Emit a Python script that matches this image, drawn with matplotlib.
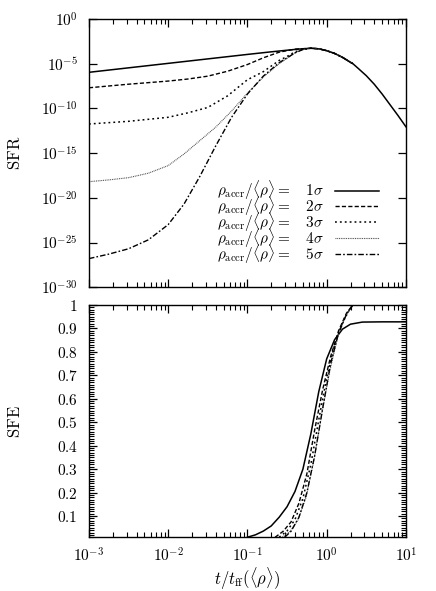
import numpy as np
import matplotlib
matplotlib.use("Agg")
import matplotlib.pyplot as plt
from matplotlib.ticker import FixedLocator, LogLocator, MultipleLocator, NullLocator, NullFormatter

plt.rcParams.update({
    "font.family": "serif",
    "font.serif": ["DejaVu Serif"],
    "mathtext.fontset": "cm",
    "font.size": 10,
    "axes.linewidth": 1.0,
})

# ---------------------------------------------------------------------------
# values (log10 t/t_ff and log10 SFR, SFE)
# ---------------------------------------------------------------------------
labels = [r"$\rho_{\mathrm{accr}}/\langle\rho\rangle =\ \ \ 1\sigma$",
          r"$\rho_{\mathrm{accr}}/\langle\rho\rangle =\ \ \ 2\sigma$",
          r"$\rho_{\mathrm{accr}}/\langle\rho\rangle =\ \ \ 3\sigma$",
          r"$\rho_{\mathrm{accr}}/\langle\rho\rangle =\ \ \ 4\sigma$",
          r"$\rho_{\mathrm{accr}}/\langle\rho\rangle =\ \ \ 5\sigma$"]

x_ticks = [-3, -2, -1, 0, 1]
sfr_ticks = [-30, -25, -20, -15, -10, -5, 0]
sfe_ticks = [0.1, 0.2, 0.3, 0.4, 0.5, 0.6, 0.7, 0.8, 0.9, 1.0]

# shared decline after the peak
tail_lt = [-0.1, 0.0, 0.1, 0.2, 0.3, 0.33]
tail_sfr = [-3.34, -3.55, -3.86, -4.3, -4.85, -5.0]
tail_lt_long = [0.4, 0.5, 0.6, 0.7, 0.8, 0.9, 1.0]
tail_sfr_long = [-5.55, -6.35, -7.3, -8.4, -9.6, -10.8, -12.06]

sfr1_lt = [-3.0, -2.5, -2.0, -1.5, -1.0, -0.7, -0.5, -0.35, -0.2]
sfr1 = [-5.97, -5.47, -4.97, -4.47, -3.97, -3.68, -3.5, -3.37, -3.28]

sfr2_lt = [-3.0, -2.5, -2.0, -1.75, -1.5, -1.25, -1.0, -0.8, -0.6, -0.4, -0.2]
sfr2 = [-7.7, -7.3, -6.95, -6.72, -6.4, -5.85, -5.1, -4.35, -3.72, -3.38, -3.28]

sfr3_lt = [-3.0, -2.5, -2.0, -1.75, -1.5, -1.25, -1.0, -0.8, -0.6, -0.5, -0.4, -0.3, -0.2]
sfr3 = [-11.75, -11.45, -11.0, -10.5, -9.9, -8.6, -6.8, -5.9, -4.65, -4.2, -3.68, -3.4, -3.28]

sfr4_lt = [-3.0, -2.75, -2.5, -2.25, -2.0, -1.8, -1.6, -1.4, -1.2, -1.0, -0.8, -0.6, -0.4, -0.3, -0.2]
sfr4 = [-18.2, -18.0, -17.75, -17.25, -16.4, -15.1, -13.6, -12.1, -10.3, -8.3, -6.5, -5.0, -3.8, -3.42, -3.28]

sfr5_lt = [-3.0, -2.75, -2.5, -2.25, -2.0, -1.8, -1.6, -1.4, -1.2, -1.0, -0.8, -0.6, -0.4, -0.3, -0.2]
sfr5 = [-26.8, -26.3, -25.7, -24.7, -23.0, -20.7, -17.6, -14.2, -11.0, -8.4, -6.4, -4.9, -3.8, -3.42, -3.28]

sfe1_lt = [-1.0, -0.9, -0.8, -0.7, -0.6, -0.5, -0.4, -0.3, -0.2, -0.1, 0.0, 0.1, 0.2, 0.3, 0.45, 0.7, 1.0]
sfe1 = [0.01, 0.02, 0.036, 0.058, 0.095, 0.14, 0.205, 0.3, 0.45, 0.63, 0.77, 0.852, 0.897, 0.918, 0.927, 0.928, 0.928]

sfe2_lt = [-0.65, -0.55, -0.45, -0.35, -0.25, -0.15, -0.05, 0.05, 0.15, 0.25, 0.33]
sfe2 = [0.01, 0.035, 0.075, 0.155, 0.28, 0.47, 0.64, 0.78, 0.89, 0.965, 1.0]

sfe3_lt = [-0.6, -0.5, -0.4, -0.3, -0.2, -0.1, 0.0, 0.1, 0.2, 0.28, 0.33]
sfe3 = [0.01, 0.037, 0.085, 0.175, 0.32, 0.51, 0.69, 0.83, 0.925, 0.975, 1.0]

sfe4_lt = [-0.56, -0.46, -0.36, -0.26, -0.16, -0.06, 0.04, 0.14, 0.24, 0.33]
sfe4 = [0.01, 0.035, 0.085, 0.18, 0.34, 0.54, 0.72, 0.865, 0.955, 1.0]

sfe5_lt = [-0.53, -0.45, -0.35, -0.25, -0.15, -0.05, 0.05, 0.15, 0.25, 0.33]
sfe5 = [0.01, 0.035, 0.095, 0.2, 0.36, 0.56, 0.75, 0.88, 0.96, 1.0]

styles = [
    dict(linestyle="-", lw=1.1),
    dict(dashes=(3.0, 1.6), lw=1.0),
    dict(dashes=(1.2, 2.0), lw=1.1),
    dict(dashes=(0.8, 0.8), lw=0.8, color="#444444"),
    dict(dashes=(4.0, 1.5, 1.2, 1.5), lw=1.0),
]

sfr_curves = [
    (sfr1_lt + tail_lt + tail_lt_long, sfr1 + tail_sfr + tail_sfr_long),
    (sfr2_lt + tail_lt, sfr2 + tail_sfr),
    (sfr3_lt + tail_lt, sfr3 + tail_sfr),
    (sfr4_lt + tail_lt, sfr4 + tail_sfr),
    (sfr5_lt + tail_lt, sfr5 + tail_sfr),
]
sfe_curves = [(sfe1_lt, sfe1), (sfe2_lt, sfe2), (sfe3_lt, sfe3), (sfe4_lt, sfe4), (sfe5_lt, sfe5)]

fig = plt.figure(figsize=(4.36, 5.91), dpi=100)
ax1 = fig.add_axes([0.204, 0.514, 0.727, 0.454])
ax2 = fig.add_axes([0.204, 0.091, 0.727, 0.393])

for (lt, ly), lab, st in zip(sfr_curves, labels, styles):
    kw = dict(st)
    kw.setdefault("color", "black")
    ax1.plot(10.0 ** np.array(lt), 10.0 ** np.array(ly), label=lab, **kw)

for (lt, y), st in zip(sfe_curves, styles):
    kw = dict(st)
    kw.setdefault("color", "black")
    ax2.plot(10.0 ** np.array(lt), y, **kw)

for ax in (ax1, ax2):
    ax.set_xscale("log")
    ax.set_xlim(1e-3, 10)
    ax.xaxis.set_major_locator(FixedLocator([10.0 ** k for k in x_ticks]))
    ax.xaxis.set_minor_locator(LogLocator(base=10, subs=np.arange(2, 10), numticks=20))
    ax.xaxis.set_minor_formatter(NullFormatter())
    ax.tick_params(which="both", direction="in", top=True, right=True)
    ax.tick_params(which="major", length=6, width=0.9)
    ax.tick_params(which="minor", length=3.5, width=0.8)

ax1.set_yscale("log")
ax1.set_ylim(1e-30, 1)
ax1.yaxis.set_major_locator(FixedLocator([10.0 ** k for k in sfr_ticks]))
ax1.yaxis.set_minor_locator(NullLocator())
ax1.set_yticklabels([r"$10^{%d}$" % k for k in sfr_ticks])
ax1.set_xticklabels([])
ax1.tick_params(axis="y", pad=8, labelsize=11)
ax1.set_ylabel(r"$\mathrm{SFR}$", fontsize=12)
ax1.yaxis.set_label_coords(-0.205, 0.5)

ax1.legend(loc="lower right", bbox_to_anchor=(0.934, 0.058), frameon=False,
           markerfirst=False, handlelength=2.9, handletextpad=0.7,
           labelspacing=-0.47, fontsize=11, borderaxespad=0)

ax2.set_ylim(0.01, 1)
ax2.yaxis.set_major_locator(FixedLocator(sfe_ticks))
ax2.yaxis.set_minor_locator(MultipleLocator(0.01))
ax2.set_yticklabels([r"$%.1f$" % v if v < 1 else r"$1$" for v in sfe_ticks])
ax2.set_xticklabels([r"$10^{%d}$" % k for k in x_ticks])
ax2.tick_params(axis="y", pad=8, labelsize=11)
ax2.tick_params(axis="x", pad=7, labelsize=11)
ax2.set_ylabel(r"$\mathrm{SFE}$", fontsize=12)
ax2.yaxis.set_label_coords(-0.205, 0.5)
ax2.set_xlabel(r"$t/t_{\mathrm{ff}}(\langle\rho\rangle)$", fontsize=12)
ax2.xaxis.set_label_coords(0.5, -0.125)

fig.savefig("out.png", dpi=100)
